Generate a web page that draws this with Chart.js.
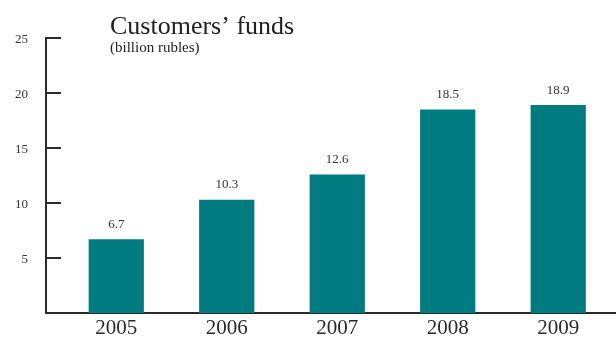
<!DOCTYPE html>
<html>
<head>
<meta charset="utf-8">
<title>Customers' funds</title>
<script src="https://cdn.jsdelivr.net/npm/chart.js@4"></script>
<style>
    html, body { margin: 0; padding: 0; background: #fff; }
    #wrap { width: 616px; height: 342px; position: relative; }
</style>
</head>
<body>
<div id="wrap"><canvas id="fundsChart"></canvas></div>
<script>
const years = [2005, 2006, 2007, 2008, 2009];
const funds = [6.7, 10.3, 12.6, 18.5, 18.9];
const yTicks = [5, 10, 15, 20, 25];
const titleText = 'Customers\u2019 funds';
const subtitleText = '(billion rubles)';

const ink = '#2b2b2b';
const teal = '#007b7f';
const serif = "'Liberation Serif', 'DejaVu Serif', serif";

// title block and inward tick marks on the value axis
const decorations = {
    id: 'decorations',
    afterDraw(chart) {
        const ctx = chart.ctx;
        const y = chart.scales.y;
        const left = chart.chartArea.left;
        ctx.save();
        ctx.strokeStyle = ink;
        ctx.lineWidth = 2;
        yTicks.forEach(v => {
            const py = Math.round(y.getPixelForValue(v));
            ctx.beginPath();
            ctx.moveTo(left - 1, py);
            ctx.lineTo(left + 15, py);
            ctx.stroke();
        });

        ctx.fillStyle = '#222';
        ctx.textAlign = 'left';
        ctx.textBaseline = 'alphabetic';
        ctx.font = '26px ' + serif;
        ctx.fillText(titleText, 110, 34);
        ctx.font = '15px ' + serif;
        ctx.fillText(subtitleText, 110, 52);
        ctx.restore();
    }
};

// value above each bar
const valueLabels = {
    id: 'valueLabels',
    afterDatasetsDraw(chart) {
        const ctx = chart.ctx;
        const meta = chart.getDatasetMeta(0);
        ctx.save();
        ctx.fillStyle = '#333';
        ctx.font = '13px ' + serif;
        ctx.textAlign = 'center';
        ctx.textBaseline = 'middle';
        meta.data.forEach((bar, i) => {
            ctx.fillText(funds[i].toFixed(1), bar.x, bar.y - 15);
        });
        ctx.restore();
    }
};

document.addEventListener("DOMContentLoaded", () => {
    const ctx = document.getElementById('fundsChart').getContext('2d');

    new Chart(ctx, {
        type: 'bar',
        data: {
            datasets: [{
                label: 'Customers\u2019 funds',
                data: years.map((yr, i) => ({ x: yr, y: funds[i] })),
                backgroundColor: teal,
                borderWidth: 0,
                categoryPercentage: 0.5,
                barPercentage: 1
            }]
        },
        options: {
            responsive: true,
            maintainAspectRatio: false,
            animation: false,
            layout: { padding: { top: 38, right: 0, left: 0, bottom: 0 } },
            plugins: {
                legend: { display: false },
                tooltip: { enabled: false }
            },
            scales: {
                x: {
                    type: 'linear',
                    offset: false,
                    min: 2004.364,
                    max: 2009.523,
                    afterBuildTicks: scale => {
                        scale.ticks = years.map(v => ({ value: v }));
                    },
                    afterFit: scale => { scale.height = 29; },
                    grid: { display: false, drawTicks: false },
                    border: { display: true, color: ink, width: 2 },
                    ticks: {
                        autoSkip: false,
                        maxRotation: 0,
                        padding: 3,
                        color: '#2a2a2a',
                        font: { family: serif, size: 21 },
                        callback: v => String(v)
                    }
                },
                y: {
                    min: 0,
                    max: 25,
                    afterBuildTicks: scale => {
                        scale.ticks = yTicks.map(v => ({ value: v }));
                    },
                    afterFit: scale => { scale.width = 46; },
                    grid: { display: false, drawTicks: false },
                    border: { display: true, color: ink, width: 2 },
                    ticks: {
                        padding: 18,
                        labelOffset: 2,
                        color: '#333',
                        font: { family: serif, size: 13 }
                    }
                }
            }
        },
        plugins: [valueLabels, decorations]
    });
});
</script>
</body>
</html>
